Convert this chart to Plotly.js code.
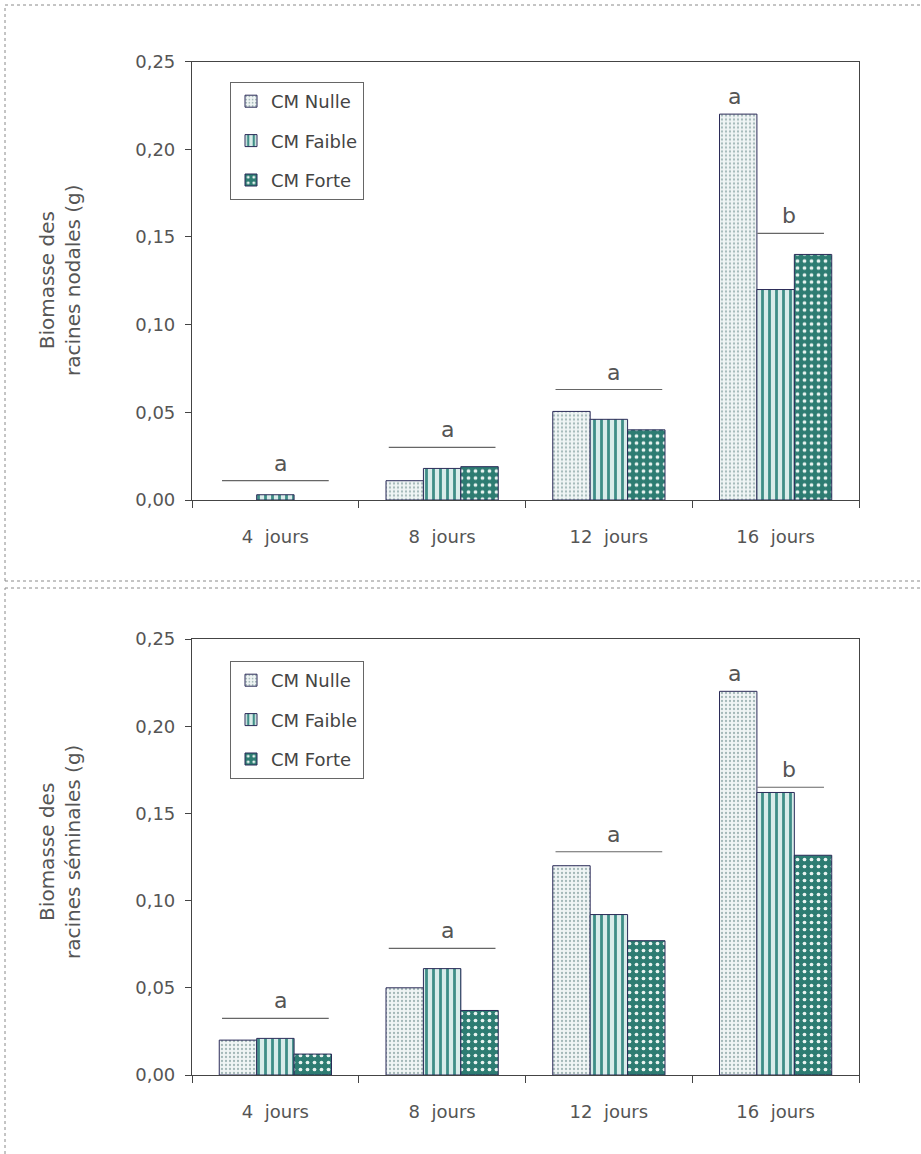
<!DOCTYPE html>
<html>
<head>
<meta charset="utf-8">
<script src="https://cdn.plot.ly/plotly-3.0.1.min.js"></script>
<style>html,body{margin:0;padding:0;background:#fff;}#chart{width:921px;height:1154px;}</style>
</head>
<body>
<div id="chart"></div>
<script>
// ---- data ----
const categories = ['4\u00a0\u00a0jours', '8\u00a0\u00a0jours', '12\u00a0\u00a0jours', '16\u00a0\u00a0jours'];
const seriesNames = ['CM Nulle', 'CM Faible', 'CM Forte'];

// null = no visible bar
const nodalesNulle  = [null, 0.011, 0.0505, 0.220];
const nodalesFaible = [0.003, 0.018, 0.046, 0.120];
const nodalesForte  = [null, 0.019, 0.040, 0.140];

const seminalesNulle  = [0.020, 0.050, 0.120, 0.220];
const seminalesFaible = [0.021, 0.061, 0.092, 0.162];
const seminalesForte  = [0.012, 0.037, 0.077, 0.126];

// significance letters: one line per group (last group: line over Faible+Forte, extra letter over Nulle)
const nodalesSigY = [0.011, 0.030, 0.063, 0.152];
const nodalesSigLetters = ['a', 'a', 'a', 'b'];
const nodalesNulleLetter = 'a';
const seminalesSigY = [0.0325, 0.0726, 0.128, 0.165];
const seminalesSigLetters = ['a', 'a', 'a', 'b'];
const seminalesNulleLetter = 'a';

const yTitles = ['Biomasse des<br>racines nodales (g)', 'Biomasse des<br>racines séminales (g)'];

// ---- styles ----
const W = 921, H = 1154;
const styles = [
  {color: '#eef3f3', pattern: {shape: '.', fgcolor: '#a3b8b8', bgcolor: '#f0f5f5', size: 4, solidity: 0.25, fillmode: 'replace'}},
  {color: '#cfe5e2', pattern: {shape: '|', fgcolor: '#3f8e87', bgcolor: '#d9ecea', size: 7, solidity: 0.4, fillmode: 'replace'}},
  {color: '#2d7c72', pattern: {shape: '.', fgcolor: '#e8f3f0', bgcolor: '#2d7c72', size: 7, solidity: 0.22, fillmode: 'replace'}}
];
const outline = {color: '#2b2b58', width: 1};
const txtColor = '#555';
const fontFam = '"DejaVu Sans", "Liberation Sans", Arial, sans-serif';

const panels = [
  {vals: [nodalesNulle, nodalesFaible, nodalesForte], sigY: nodalesSigY, sigL: nodalesSigLetters, nulleL: nodalesNulleLetter, xa: 'x', ya: 'y', legend: 'legend'},
  {vals: [seminalesNulle, seminalesFaible, seminalesForte], sigY: seminalesSigY, sigL: seminalesSigLetters, nulleL: seminalesNulleLetter, xa: 'x2', ya: 'y2', legend: 'legend2'}
];

const traces = [];
const shapes = [];
const annotations = [];

const barW = (1 - 0.327) / 3;
const letterFont = {family: fontFam, size: 22, color: txtColor};

panels.forEach((p, pi) => {
  p.vals.forEach((v, si) => {
    traces.push({
      type: 'bar', x: categories, y: v, name: seriesNames[si],
      xaxis: p.xa, yaxis: p.ya, legend: p.legend, legendgroup: 'g' + pi + si,
      marker: {color: styles[si].color, pattern: styles[si].pattern, line: outline},
      hoverinfo: 'x+y+name'
    });
  });
  p.sigY.forEach((yv, i) => {
    let x0, x1, xc;
    if (i < categories.length - 1) { x0 = i - 0.32; x1 = i + 0.32; xc = i + 0.03; }
    else { x0 = i - 0.11; x1 = i + 0.29; xc = i + 0.08; }
    shapes.push({type: 'line', xref: p.xa, yref: p.ya, x0: x0, x1: x1, y0: yv, y1: yv,
      line: {color: '#666', width: 1.2}});
    annotations.push({xref: p.xa, yref: p.ya, x: xc, y: yv, text: p.sigL[i], showarrow: false,
      yanchor: 'bottom', yshift: 3, font: letterFont});
  });
  const last = categories.length - 1;
  annotations.push({xref: p.xa, yref: p.ya, x: last - barW - 0.02, y: p.vals[0][last], text: p.nulleL, showarrow: false,
    yanchor: 'bottom', yshift: 3, font: letterFont});
});

// y titles
annotations.push({xref: 'paper', yref: 'paper', x: 60 / W, y: 1 - 280 / H, text: yTitles[0], textangle: -90,
  xanchor: 'center', yanchor: 'middle', showarrow: false, font: {family: fontFam, size: 20, color: txtColor}});
annotations.push({xref: 'paper', yref: 'paper', x: 60 / W, y: 1 - 852 / H, text: yTitles[1], textangle: -90,
  xanchor: 'center', yanchor: 'middle', showarrow: false, font: {family: fontFam, size: 20, color: txtColor}});

// outer frames (scanned figure borders)
const frame = {color: '#8a8a8a', width: 1, dash: 'dot'};
shapes.push({type: 'line', xref: 'paper', yref: 'paper', x0: 5 / W, x1: 1, y0: 1 - 5 / H, y1: 1 - 5 / H, line: frame});
shapes.push({type: 'line', xref: 'paper', yref: 'paper', x0: 5 / W, x1: 5 / W, y0: 1 - 581 / H, y1: 1 - 5 / H, line: frame});
shapes.push({type: 'line', xref: 'paper', yref: 'paper', x0: 5 / W, x1: 1, y0: 1 - 581 / H, y1: 1 - 581 / H, line: frame});
shapes.push({type: 'line', xref: 'paper', yref: 'paper', x0: 5 / W, x1: 1, y0: 1 - 588 / H, y1: 1 - 588 / H, line: frame});
shapes.push({type: 'line', xref: 'paper', yref: 'paper', x0: 5 / W, x1: 5 / W, y0: 0, y1: 1 - 588 / H, line: frame});

const xDomain = [192 / W, 859 / W];
const yDomTop = [1 - 500 / H, 1 - 61.5 / H];
const yDomBot = [1 - 1075 / H, 1 - 639 / H];

const tickFont = {family: fontFam, size: 18, color: txtColor};

function xAxis(anchor) {
  return {domain: xDomain, anchor: anchor, type: 'category', range: [-0.5, 3.5],
    showline: true, linecolor: '#444', linewidth: 1.2, mirror: true,
    ticks: 'outside', tickson: 'boundaries', ticklen: 7, tickcolor: '#444', tickwidth: 1,
    tickfont: tickFont, ticklabelstandoff: 20,
    showgrid: false, zeroline: false, fixedrange: true};
}
function yAxis(anchor, dom) {
  return {domain: dom, anchor: anchor, range: [0, 0.25], dtick: 0.05, tickformat: '.2f',
    showline: true, linecolor: '#444', linewidth: 1.2, mirror: true,
    ticks: 'outside', ticklen: 6, tickcolor: '#444', tickwidth: 1,
    tickfont: tickFont, ticklabelstandoff: 6,
    showgrid: false, zeroline: false, fixedrange: true};
}
function xOver(overlay, anchor) {
  return {domain: xDomain, overlaying: overlay, anchor: anchor, range: [-0.5, 3.5],
    tickvals: [-0.5, 0.5, 1.5, 2.5, 3.5], ticks: 'inside', ticklen: 7, tickcolor: '#444',
    showticklabels: false, showline: false, showgrid: false, zeroline: false, fixedrange: true};
}
function yOver(overlay, anchor, dom) {
  return {domain: dom, overlaying: overlay, anchor: anchor, range: [0, 0.25], dtick: 0.05,
    ticks: 'inside', ticklen: 6, tickcolor: '#444',
    showticklabels: false, showline: false, showgrid: false, zeroline: false, fixedrange: true};
}

function legendOpts(yTop) {
  return {x: 230 / W, y: yTop, xanchor: 'left', yanchor: 'top',
    bgcolor: 'rgba(255,255,255,0)', bordercolor: '#666', borderwidth: 1,
    font: {family: fontFam, size: 18, color: '#444'},
    itemwidth: 30,
    traceorder: 'grouped', tracegroupgap: 13, itemclick: false, itemdoubleclick: false};
}

const layout = {
  width: W, height: H, margin: {l: 0, r: 0, t: 0, b: 0},
  paper_bgcolor: '#fff', plot_bgcolor: 'rgba(0,0,0,0)',
  separators: ', ',
  barmode: 'group', bargap: 0.327, bargroupgap: 0,
  font: {family: fontFam, color: txtColor},
  xaxis: xAxis('y'), yaxis: yAxis('x', yDomTop),
  xaxis2: xAxis('y2'), yaxis2: yAxis('x2', yDomBot),
  xaxis3: xOver('x', 'y'), yaxis3: yOver('y', 'x', yDomTop),
  xaxis4: xOver('x2', 'y2'), yaxis4: yOver('y2', 'x2', yDomBot),
  legend: legendOpts(1 - 82 / H),
  legend2: legendOpts(1 - 661 / H),
  shapes: shapes, annotations: annotations,
  showlegend: true
};

Plotly.newPlot('chart', traces, layout, {displayModeBar: false, staticPlot: false});
</script>
</body>
</html>
